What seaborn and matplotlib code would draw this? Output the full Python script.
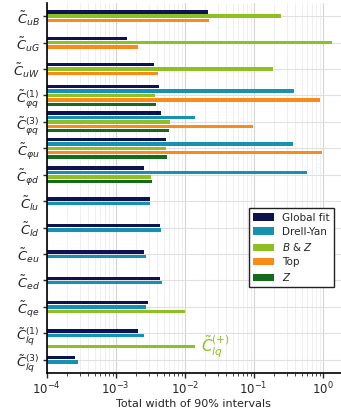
import numpy as np
import pandas as pd
import matplotlib
matplotlib.use("Agg")
import matplotlib.pyplot as plt
from matplotlib.ticker import LogLocator, NullFormatter
import seaborn as sns

# Wilson coefficients (rows, top to bottom)
coefficients = [
    r"$\tilde{C}_{uB}$", r"$\tilde{C}_{uG}$", r"$\tilde{C}_{uW}$",
    r"$\tilde{C}_{\varphi q}^{(1)}$", r"$\tilde{C}_{\varphi q}^{(3)}$",
    r"$\tilde{C}_{\varphi u}$", r"$\tilde{C}_{\varphi d}$",
    r"$\tilde{C}_{lu}$", r"$\tilde{C}_{ld}$", r"$\tilde{C}_{eu}$",
    r"$\tilde{C}_{ed}$", r"$\tilde{C}_{qe}$",
    r"$\tilde{C}_{lq}^{(1)}$", r"$\tilde{C}_{lq}^{(3)}$",
]
series_names = ["Global fit", "Drell-Yan", r"$B$ & $Z$", "Top", r"$Z$"]
series_colors = ["#0c1350", "#1591b2", "#8ec024", "#fb8b18", "#146b1c"]

nan = np.nan
# Total width of the 90% intervals per dataset
global_fit = [0.0215, 0.00144, 0.00356, 0.00429, 0.00449, 0.0053, 0.00257,
              0.00311, 0.00439, 0.0026, 0.00434, 0.00291, 0.0021, 0.00026]
drell_yan = [nan, nan, nan, 0.384, 0.0141, 0.375, 0.591,
             0.00314, 0.00449, 0.00272, 0.00464, 0.00272, 0.00257, 0.000281]
b_and_z = [0.246, 1.38, 0.192, 0.00371, 0.00606, 0.0054, 0.00325,
           nan, nan, nan, nan, 0.0102, nan, nan]
top = [0.0225, 0.00208, 0.0041, 0.914, 0.0977, 0.987, nan,
       nan, nan, nan, nan, nan, nan, nan]
z_pole = [nan, nan, nan, 0.00384, 0.00598, 0.00548, 0.00332,
          nan, nan, nan, nan, nan, nan, nan]
# B & Z only constrains the combination C_lq^(+) = C_lq^(1) + C_lq^(3)
clq_plus_label = r"$\tilde{C}_{lq}^{(+)}$"
clq_plus_bz = 0.0141

series_values = [global_fit, drell_yan, b_and_z, top, z_pole]

# Build long table: bars of a row are stacked and centred on the row position
slot = 0.1665
rows = []
for i, coef in enumerate(coefficients):
    present = [(name, vals[i]) for name, vals in zip(series_names, series_values)
               if not np.isnan(vals[i])]
    n = len(present)
    for k, (name, v) in enumerate(present):
        rows.append({"pos": round(i + (k - (n - 1) / 2) * slot, 5),
                     "width": v, "series": name})
clq1 = coefficients.index(r"$\tilde{C}_{lq}^{(1)}$")
clq_plus_pos = clq1 + 0.5
rows.append({"pos": clq_plus_pos, "width": clq_plus_bz, "series": r"$B$ & $Z$"})
df = pd.DataFrame(rows)

sns.set_style("ticks")
plt.rcParams["font.family"] = ["DejaVu Sans"]
plt.rcParams["mathtext.fontset"] = "dejavusans"

fig = plt.figure(figsize=(3.41, 4.11), dpi=100)
ax = fig.add_axes([0.137, 0.0925, 0.863, 0.9002])

sns.barplot(data=df, x="width", y="pos", hue="series", hue_order=series_names,
            palette=series_colors, saturation=1, orient="y", native_scale=True,
            dodge=False, width=0.78, errorbar=None, log_scale=(True, False),
            edgecolor="none", linewidth=0, ax=ax)

ax.set_xscale("log")
ax.set_xlim(1e-4, 1.84)
ax.set_ylim(13.5, -0.5)
ax.set_yticks(range(len(coefficients)))
ax.set_yticklabels(coefficients, fontsize=9.5)
ax.set_ylabel("")
ax.set_xlabel("Total width of 90% intervals", fontsize=8, labelpad=1)

ax.xaxis.set_major_locator(LogLocator(base=10, numticks=10))
ax.xaxis.set_minor_locator(LogLocator(base=10, subs=np.arange(2, 10), numticks=20))
ax.xaxis.set_minor_formatter(NullFormatter())
ax.tick_params(axis="x", which="major", labelsize=8.5, length=3.5, width=1, pad=2)
ax.tick_params(axis="x", which="minor", length=2, width=0.6)
ax.tick_params(axis="y", which="major", length=3, width=1, pad=2)

ax.set_axisbelow(True)
ax.grid(axis="x", which="major", color="#d4d4d4", linewidth=0.8)
ax.grid(axis="x", which="minor", color="#ececec", linewidth=0.6)
ax.grid(axis="y", which="major", color="#e0e0e0", linewidth=0.8)

for side in ("top", "right"):
    ax.spines[side].set_visible(False)
for side in ("left", "bottom"):
    ax.spines[side].set_linewidth(1.2)
    ax.spines[side].set_color("black")

ax.text(0.0175, clq_plus_pos, clq_plus_label, color=series_colors[2],
        fontsize=11, va="center", ha="left")

handles, labels = ax.get_legend_handles_labels()
leg = ax.legend(handles, labels, loc="upper right", bbox_to_anchor=(0.975, 0.445),
                borderaxespad=0, fontsize=7.5, frameon=True, fancybox=False,
                edgecolor="#222222", framealpha=1, handlelength=2.0,
                handleheight=0.7, labelspacing=0.4, borderpad=0.4,
                handletextpad=0.8)
leg.get_frame().set_linewidth(1.0)

fig.savefig("out.png", dpi=100)
